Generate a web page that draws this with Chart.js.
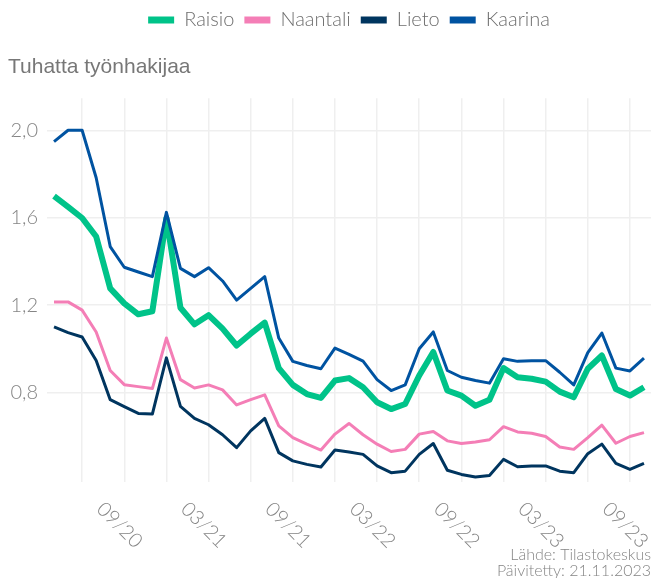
<!DOCTYPE html>
<html>
<head>
<meta charset="utf-8">
<script src="https://cdn.jsdelivr.net/npm/chart.js@4/dist/chart.umd.min.js"></script>
<style>
  html, body { margin: 0; padding: 0; background: #fff; }
  #wrap { width: 652px; height: 578px; }
</style>
</head>
<body>
<div id="wrap"><canvas id="chart"></canvas></div>
<script>
const months = [
    '07/20', '08/20', '09/20', '10/20', '11/20', '12/20',
    '01/21', '02/21', '03/21', '04/21', '05/21', '06/21', '07/21', '08/21', '09/21', '10/21', '11/21', '12/21',
    '01/22', '02/22', '03/22', '04/22', '05/22', '06/22', '07/22', '08/22', '09/22', '10/22', '11/22', '12/22',
    '01/23', '02/23', '03/23', '04/23', '05/23', '06/23', '07/23', '08/23', '09/23', '10/23', '11/23', '12/23',
    '01/24'
];
const xTickLabels = ['09/20', '03/21', '09/21', '03/22', '09/22', '03/23', '09/23'];
const yTicks = [0.8, 1.2, 1.6, 2.0];

const raisio = [1.700, 1.651, 1.600, 1.515, 1.277, 1.208, 1.158, 1.172, 1.600, 1.188,
    1.112, 1.154, 1.092, 1.015, 1.069, 1.120, 0.911, 0.834, 0.792, 0.774,
    0.854, 0.865, 0.823, 0.754, 0.723, 0.746, 0.877, 0.985, 0.808, 0.785,
    0.738, 0.766, 0.911, 0.869, 0.862, 0.849, 0.803, 0.777, 0.908, 0.969,
    0.815, 0.785, 0.823];
const naantali = [1.215, 1.215, 1.177, 1.077, 0.900, 0.835, 0.826, 0.817, 1.049, 0.858,
    0.820, 0.834, 0.811, 0.742, 0.766, 0.788, 0.646, 0.592, 0.562, 0.535,
    0.608, 0.657, 0.605, 0.562, 0.528, 0.538, 0.608, 0.620, 0.577, 0.565,
    0.572, 0.582, 0.642, 0.618, 0.612, 0.597, 0.549, 0.538, 0.592, 0.649,
    0.566, 0.597, 0.615];
const lieto = [1.100, 1.074, 1.054, 0.946, 0.766, 0.734, 0.703, 0.700, 0.958, 0.735,
    0.680, 0.651, 0.605, 0.546, 0.623, 0.680, 0.523, 0.485, 0.469, 0.457,
    0.535, 0.526, 0.515, 0.462, 0.431, 0.438, 0.515, 0.565, 0.442, 0.423,
    0.411, 0.418, 0.492, 0.458, 0.462, 0.462, 0.438, 0.431, 0.518, 0.562,
    0.474, 0.446, 0.474];
const kaarina = [1.951, 2.003, 2.003, 1.785, 1.469, 1.374, 1.352, 1.331, 1.626, 1.369,
    1.331, 1.372, 1.311, 1.223, 1.277, 1.331, 1.049, 0.942, 0.923, 0.908,
    1.003, 0.974, 0.943, 0.858, 0.808, 0.834, 1.000, 1.077, 0.900, 0.869,
    0.854, 0.842, 0.954, 0.942, 0.945, 0.945, 0.892, 0.834, 0.982, 1.072,
    0.911, 0.898, 0.957];

const gridColor = '#efefef';
const textGray = '#858585';

// x labels are turned clockwise like the original, chart.js can only turn them the other way
const rotatedMonthLabels = {
    id: 'rotatedMonthLabels',
    afterDraw(chart) {
        const ctx = chart.ctx;
        const xScale = chart.scales.x;
        ctx.save();
        ctx.font = '300 20px Lato';
        ctx.fillStyle = textGray;
        ctx.textAlign = 'left';
        ctx.textBaseline = 'middle';
        xTickLabels.forEach(label => {
            const x = xScale.getPixelForValue(months.indexOf(label));
            ctx.save();
            ctx.translate(x + 18, chart.chartArea.bottom + 24);
            ctx.rotate(Math.PI / 4);
            ctx.fillText(label, 0, 0);
            ctx.restore();
        });
        ctx.restore();
    }
};

Chart.defaults.font.family = 'Lato';
Chart.defaults.color = textGray;

function line(label, data, color, width, order) {
    return {
        label: label,
        data: data,
        borderColor: color,
        backgroundColor: color,
        borderWidth: width,
        pointRadius: 0,
        tension: 0,
        borderJoinStyle: 'round',
        order: order
    };
}

const chart = new Chart(document.querySelector('#chart'), {
    type: 'line',
    data: {
        labels: months,
        datasets: [
            line('Raisio', raisio, '#00c389', 6, 4),
            line('Naantali', naantali, '#f47eb6', 3, 3),
            line('Lieto', lieto, '#00355f', 3, 2),
            line('Kaarina', kaarina, '#0053a1', 3, 1)
        ]
    },
    options: {
        responsive: true,
        maintainAspectRatio: false,
        animation: false,
        layout: { padding: { left: 8, right: 1, top: 0, bottom: 0 } },
        plugins: {
            legend: {
                position: 'top',
                fullSize: false,
                labels: {
                    boxWidth: 26,
                    boxHeight: 7,
                    padding: 10,
                    color: '#6e6e6e',
                    font: { size: 20, weight: '300' },
                    sort: (a, b) => a.datasetIndex - b.datasetIndex,
                    generateLabels: (c) => Chart.defaults.plugins.legend.labels.generateLabels(c)
                        .map(item => Object.assign(item, { lineWidth: 0 }))
                }
            },
            title: {
                display: true,
                text: 'Tuhatta työnhakijaa',
                align: 'start',
                weight: 500,
                color: '#777777',
                font: { family: 'Liberation Sans', size: 21, weight: 'normal' },
                padding: { top: 15, bottom: 18 }
            },
            subtitle: {
                display: true,
                position: 'bottom',
                align: 'end',
                text: ['Lähde: Tilastokeskus', 'Päivitetty: 21.11.2023'],
                color: textGray,
                font: { size: 16, weight: '300', lineHeight: 0.95 },
                padding: { top: 66, bottom: 0 }
            },
            tooltip: { enabled: false }
        },
        scales: {
            x: {
                offset: true,
                border: { display: false },
                ticks: { display: false, autoSkip: false },
                grid: {
                    drawTicks: false,
                    lineWidth: 1.5,
                    color: (c) => (c.index - 2) % 3 === 0 ? gridColor : 'rgba(0,0,0,0)'
                }
            },
            y: {
                min: 0.39,
                max: 2.15,
                border: { display: false },
                afterBuildTicks: (scale) => {
                    scale.ticks = yTicks.map(v => ({ value: v }));
                },
                afterFit: (scale) => {
                    scale.width = 39;
                },
                ticks: {
                    padding: 9,
                    color: textGray,
                    font: { size: 20, weight: '300' },
                    callback: (v) => v.toFixed(1).replace('.', ',')
                },
                grid: { drawTicks: false, lineWidth: 1.5, color: gridColor }
            }
        }
    },
    plugins: [rotatedMonthLabels]
});
</script>
</body>
</html>
